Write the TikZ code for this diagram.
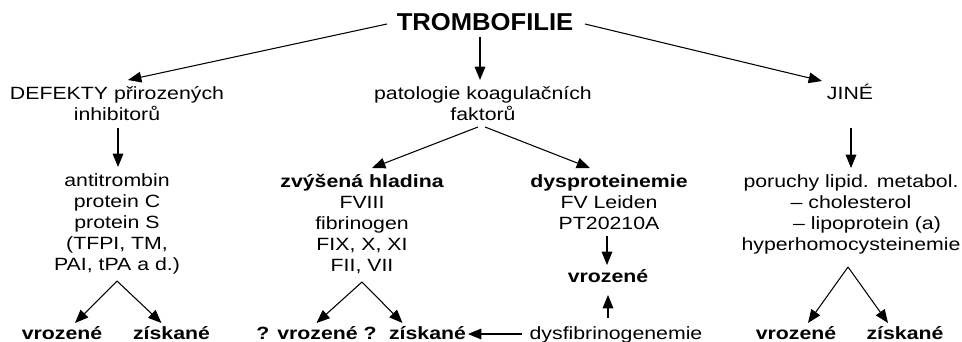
\documentclass[tikz,border=0pt]{standalone}
\usepackage{fontspec}
\setmainfont{Liberation Sans}[FakeStretch=1.2]
\newfontfamily\titlefont{Liberation Sans}[FakeStretch=1.05]
\usetikzlibrary{arrows.meta}
\begin{document}
\begin{tikzpicture}[x=0.75pt,y=-0.75pt,
  txt/.style={inner sep=0pt, anchor=base, align=center, font=\fontsize{13.3}{15.75}\selectfont},
  bt/.style={txt, font=\fontsize{13.3}{15.75}\selectfont\bfseries},
  arr/.style={line width=0.8pt, -{Triangle[length=10pt,width=8pt]}}]
\useasboundingbox[fill=white] (0,0) rectangle (962,342);
% row 1
\node[inner sep=0pt, anchor=base, font=\titlefont\fontsize{18.3}{20}\selectfont\bfseries] (title) at (485,31) {TROMBOFILIE};
% row 2 (base = baseline of last line)
\node[txt] (defekty) at (117,121) {DEFEKTY přirozených\\inhibitorů};
\node[txt] (patologie) at (483,121) {patologie koagulačních\\faktorů};
\node[txt] (jine) at (850,100) {JINÉ};
% row 3
\node[txt] (inhib) at (117,270) {antitrombin\\protein C\\protein S\\(TFPI, TM,\\PAI, tPA a d.)};
\node[txt] (zvys) at (362,271) {{\bfseries zvýšená hladina}\\FVIII\\fibrinogen\\FIX, X, XI\\FII, VII};
\node[txt] (dyspro) at (609,229) {{\bfseries dysproteinemie}\\FV Leiden\\PT20210A};
\node[bt] (vrozmid) at (608,282) {vrozené};
\node[txt] (lipid) at (851,250) {poruchy lipid. metabol.\\– cholesterol\\\hspace*{24pt}– lipoprotein (a)\\hyperhomocysteinemie};
% bottom row
\node[bt] (lv) at (62,339) {vrozené};
\node[bt] (lz) at (171.5,339) {získané};
\node[bt] (mv) at (316.5,339) {? vrozené ?};
\node[bt] (mz) at (427.5,339) {získané};
\node[txt] (dysfib) at (616,339) {dysfibrinogenemie};
\node[bt] (rv) at (796,339) {vrozené};
\node[bt] (rz) at (905,339) {získané};
% connectors
\draw[arr] ([shift={(-98,-7)}]title.base) -- ([shift={(11,-41)}]defekty.base);
\draw[arr] ([shift={(-5,6)}]title.base) -- ([shift={(-3,-41)}]patologie.base);
\draw[arr] ([shift={(100,-7)}]title.base) -- ([shift={(-28,-19)}]jine.base);
\draw[arr] ([shift={(1,7)}]defekty.base) -- ([shift={(1,-103)}]inhib.base);
\draw[arr] ([shift={(-5,6)}]patologie.base) -- ([shift={(10,-103)}]zvys.base);
\draw[arr] ([shift={(2,6)}]patologie.base) -- ([shift={(-19,-61)}]dyspro.base);
\draw[arr] ([shift={(1,28)}]jine.base) -- ([shift={(0,-82)}]lipid.base);
\draw[arr] ([shift={(0,11)}]inhib.base) -- ([shift={(13,-16)}]lv.base);
\draw[arr] ([shift={(0,11)}]inhib.base) -- ([shift={(-10,-16)}]lz.base);
\draw[arr] ([shift={(0,11)}]zvys.base) -- ([shift={(0,-16)}]mv.base);
\draw[arr] ([shift={(0,11)}]zvys.base) -- ([shift={(-25,-16)}]mz.base);
\draw[arr] ([shift={(-2,7)}]dyspro.base) -- ([shift={(-1,-17)}]vrozmid.base);
\draw[arr] ([shift={(-8,-21)}]dysfib.base) -- ([shift={(0,13)}]vrozmid.base);
\draw[arr] ([shift={(-94,-5)}]dysfib.base) -- ([shift={(40.5,-5)}]mz.base);
\draw[arr] ([shift={(-3,17)}]lipid.base) -- ([shift={(12,-16)}]rv.base);
\draw[arr] ([shift={(-3,17)}]lipid.base) -- ([shift={(-17,-16)}]rz.base);
\end{tikzpicture}
\end{document}
